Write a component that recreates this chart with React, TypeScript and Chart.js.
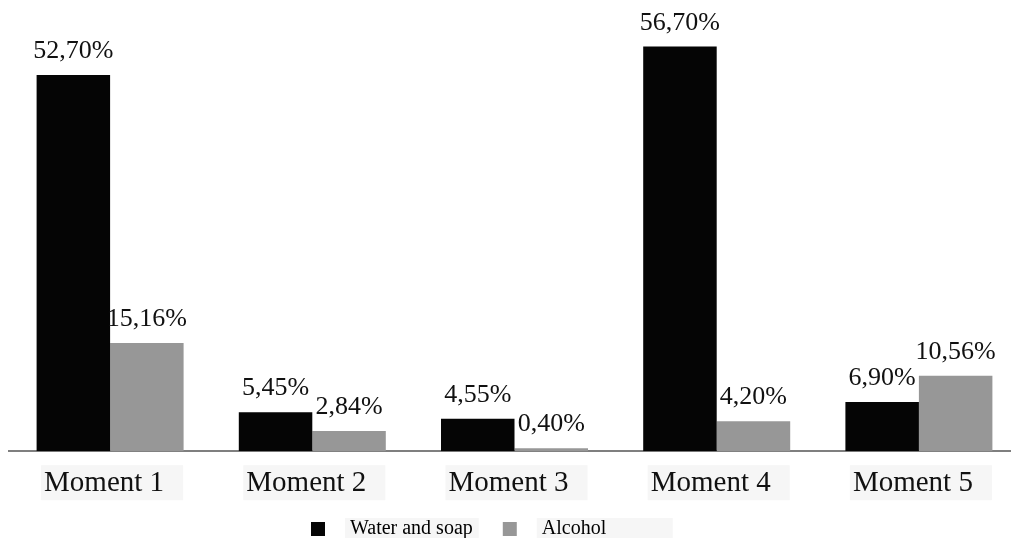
import React, { useEffect, useRef } from 'react';
import { Chart, registerables } from 'chart.js';

Chart.register(...registerables);

const categories = ['Moment 1', 'Moment 2', 'Moment 3', 'Moment 4', 'Moment 5'];
const waterAndSoap = [52.7, 5.45, 4.55, 56.7, 6.9];
const alcohol = [15.16, 2.84, 0.4, 4.2, 10.56];
const seriesNames = ['Water and soap', 'Alcohol'];
const seriesColors = ['#050505', '#979797'];

const SERIF = '"Liberation Serif", "Times New Roman", serif';
const LEGEND_FONT = 20;
const LEGEND_PAD = 10;
const BOX = 14;
const TICK_FONT = 29;
const LABEL_OFFSET = -6;
const BG = '#f6f6f6';

const fmt = (v: number) => v.toFixed(2).replace('.', ',') + '%';

const legendMovePlugin = {
  id: 'legendMove',
  afterLayout(chart: any) {
    const lg = chart.legend;
    if (!lg) return;
    const dx = 301 - lg.left;
    const dy = 509 - lg.top;
    lg.left += dx;
    lg.right += dx;
    lg.top += dy;
    lg.bottom += dy;
  },
};

const backgroundsPlugin = {
  id: 'labelBackgrounds',
  beforeDraw(chart: any) {
    const ctx = chart.ctx;
    const xs = chart.scales.x;
    ctx.save();
    ctx.fillStyle = BG;
    ctx.font = `${TICK_FONT}px ${SERIF}`;
    const base = chart.chartArea.bottom;
    categories.forEach((c, i) => {
      const px = xs.getPixelForTick(i) + LABEL_OFFSET;
      const w = ctx.measureText(c).width;
      const left = px - w / 2;
      ctx.fillRect(left - 3, base + 14, w + 22, 35);
    });
    const lg = chart.legend;
    if (lg) {
      ctx.font = `${LEGEND_FONT}px ${SERIF}`;
      const items = lg.legendItems || [];
      let x = lg.left + LEGEND_PAD;
      const y = lg.top + LEGEND_PAD;
      items.forEach((it: any, i: number) => {
        const full = ctx.measureText(it.text).width;
        const lead = ctx.measureText(it.text.match(/^\s*/)[0]).width;
        const word = ctx.measureText(it.text.trim()).width;
        const wordStart = x + BOX + LEGEND_FONT / 2 + lead;
        const r = i === 0 ? wordStart + word + 6 : wordStart + 131;
        ctx.fillRect(wordStart - 5, y - 1, r - (wordStart - 5), 20);
        x += BOX + LEGEND_FONT / 2 + full + LEGEND_PAD;
      });
    }
    ctx.restore();
  },
};

const valueLabelsPlugin = {
  id: 'valueLabels',
  afterDatasetsDraw(chart: any) {
    const ctx = chart.ctx;
    ctx.save();
    ctx.font = `26px ${SERIF}`;
    ctx.fillStyle = '#111111';
    ctx.textAlign = 'center';
    ctx.textBaseline = 'alphabetic';
    chart.data.datasets.forEach((ds: any, di: number) => {
      const meta = chart.getDatasetMeta(di);
      meta.data.forEach((el: any, i: number) => {
        ctx.fillText(fmt(ds.data[i]), el.x, el.y - 17);
      });
    });
    ctx.restore();
  },
};

export default function App() {
  const ref = useRef<HTMLCanvasElement | null>(null);

  useEffect(() => {
    if (!ref.current) return;
    const chart = new Chart(ref.current, {
      type: 'bar',
      data: {
        labels: categories,
        datasets: [
          {
            label: seriesNames[0],
            data: waterAndSoap,
            backgroundColor: seriesColors[0],
            borderWidth: 0,
            categoryPercentage: 0.727,
            barPercentage: 1,
          },
          {
            label: seriesNames[1],
            data: alcohol,
            backgroundColor: seriesColors[1],
            borderWidth: 0,
            categoryPercentage: 0.727,
            barPercentage: 1,
          },
        ],
      },
      options: {
        animation: false,
        responsive: false,
        maintainAspectRatio: false,
        layout: { padding: { left: 9, right: 10, top: 23, bottom: -18 } },
        scales: {
          x: {
            grid: { display: false, drawTicks: false },
            border: { display: true, color: '#7f7f7f', width: 2 },
            ticks: {
              font: { family: SERIF, size: TICK_FONT },
              color: '#111111',
              padding: 15,
              labelOffset: LABEL_OFFSET,
            },
          },
          y: { display: false, min: 0, max: 60 },
        },
        plugins: {
          tooltip: { enabled: false },
          legend: {
            position: 'bottom',
            align: 'start',
            labels: {
              boxWidth: BOX,
              boxHeight: BOX,
              padding: LEGEND_PAD,
              color: '#111111',
              font: { family: SERIF, size: LEGEND_FONT },
              generateLabels: () => [
                {
                  text: '   ' + seriesNames[0] + '    ',
                  fillStyle: seriesColors[0],
                  strokeStyle: seriesColors[0],
                  lineWidth: 0,
                  datasetIndex: 0,
                  hidden: false,
                },
                {
                  text: '   ' + seriesNames[1],
                  fillStyle: seriesColors[1],
                  strokeStyle: seriesColors[1],
                  lineWidth: 0,
                  datasetIndex: 1,
                  hidden: false,
                },
              ],
            },
          },
        },
      },
      plugins: [legendMovePlugin, backgroundsPlugin, valueLabelsPlugin],
    });
    return () => chart.destroy();
  }, []);

  return (
    <div
      style={{
        position: 'fixed',
        left: 0,
        top: 0,
        width: 1011,
        height: 538,
        overflow: 'hidden',
        background: '#ffffff',
      }}
    >
      <canvas ref={ref} width={1030} height={538} style={{ display: 'block' }} />
    </div>
  );
}
